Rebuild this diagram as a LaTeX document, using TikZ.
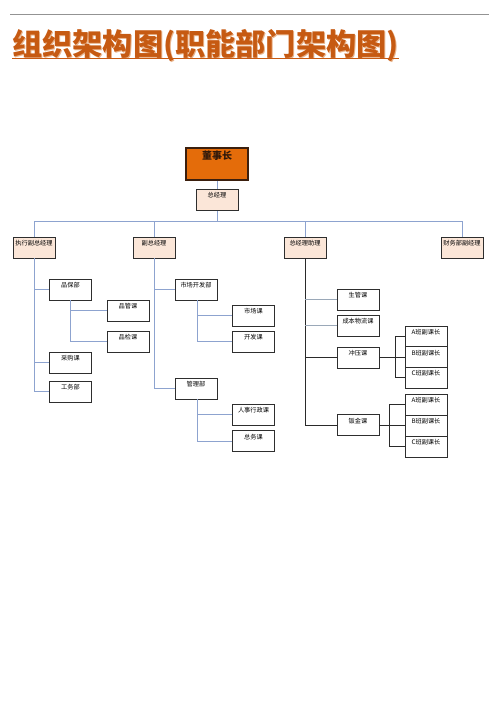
\documentclass[tikz,border=0pt]{standalone}
\usepackage{fontspec}
\newfontfamily\cjk{Noto Sans CJK SC}
\definecolor{titleor}{HTML}{C65A12}
\definecolor{titlesh}{HTML}{E9B48C}
\definecolor{topfill}{HTML}{E46C0A}
\definecolor{topline}{HTML}{3B1F0E}
\definecolor{peach}{HTML}{FBE6D8}
\definecolor{boxline}{HTML}{2E2E2E}
\definecolor{busblue}{HTML}{8DA3CF}
\definecolor{lgray}{HTML}{9AA8B8}
\definecolor{dkline}{HTML}{2A2A2A}
\tikzset{
  box/.style={draw=boxline, line width=0.8pt, fill=white, minimum width=42pt, minimum height=21pt,
    inner sep=0pt, font=\cjk\fontsize{6.2}{6.2}\selectfont, text height=4pt, text depth=8pt},
  pbox/.style={box, fill=peach},
  sbox/.style={box, minimum height=20.7pt},
  topbox/.style={draw=topline, line width=1.6pt, fill=topfill, minimum width=62pt, minimum height=32pt,
    inner sep=0pt, font=\cjk\bfseries\fontsize{10}{10}\selectfont, text=topline!80!black, text height=5pt, text depth=14pt},
  conn/.style={draw=busblue, line width=0.7pt},
  gconn/.style={draw=lgray, line width=0.8pt},
  dconn/.style={draw=dkline, line width=0.9pt},
}
\begin{document}
\begin{tikzpicture}[x=1pt,y=-1pt]
\useasboundingbox (0,0) rectangle (500,708);
% header rule and title
\draw[draw=gray!85, line width=0.9pt] (10,14) -- (489,14);
\node[anchor=base west, inner sep=0pt, font=\cjk\bfseries\fontsize{30.2}{30.2}\selectfont, text=titlesh] at (13,56.8) {组织架构图(职能部门架构图)};
\node[anchor=base west, inner sep=0pt, font=\cjk\bfseries\fontsize{30.2}{30.2}\selectfont, text=titleor] (title) at (12,56) {组织架构图(职能部门架构图)};
\draw[titleor, line width=1.6pt] ([yshift=-2.5pt]title.base west) -- ([yshift=-2.5pt]title.base east);

% top levels
\node[topbox] (dsz) at (217,164) {董事长};
\node[pbox] (zjl) at (217,200) {总经理};
\coordinate (busL) at (34,221);
\coordinate (busR) at (462,221);
\node[pbox] (zxf) at (34,247.5) {执行副总经理};
\node[pbox] (fzj) at (154,247.5) {副总经理};
\node[pbox] (zzl) at (305,247.5) {总经理助理};
\node[pbox] (cwb) at (462,247.5) {财务部副经理};

\draw[conn] (dsz.south) -- (zjl.north);
\draw[conn] (zjl.south) -- (zjl.south |- busL);
\draw[conn] (busL) -- (busR);
\draw[conn] (zxf.north) -- (zxf.north |- busL);
\draw[conn] (fzj.north) -- (fzj.north |- busL);
\draw[conn] (zzl.north) -- (zzl.north |- busL);
\draw[conn] (cwb.north) -- (cwb.north |- busL);

% column 1
\node[box] (pbb) at (70.5,289.5) {品保部};
\node[box] (pgk) at (128,310.5) {品管课};
\node[box] (pjk) at (128,341.5) {品检课};
\node[box] (cgk) at (70.5,362.5) {采购课};
\node[box] (gwb) at (70.5,391.5) {工务部};
\draw[conn] (zxf.south) |- (gwb.west);
\draw[conn] (zxf.south |- pbb.west) -- (pbb.west);
\draw[conn] (zxf.south |- cgk.west) -- (cgk.west);
\draw[conn] (pbb.south) |- (pjk.west);
\draw[conn] (pbb.south |- pgk.west) -- (pgk.west);

% column 2
\node[box] (scb) at (196,289.5) {市场开发部};
\node[box] (sck) at (253.5,315.5) {市场课};
\node[box] (kfk) at (253.5,341.5) {开发课};
\node[box] (glb) at (196,388.5) {管理部};
\node[box] (rsk) at (253.5,414.5) {人事行政课};
\node[box] (zwk) at (253.5,441) {总务课};
\coordinate (c2a) at (197,300);
\coordinate (c2b) at (197,399);
\draw[conn] (fzj.south) |- (glb.west);
\draw[conn] (fzj.south |- scb.west) -- (scb.west);
\draw[conn] (c2a) |- (kfk.west);
\draw[conn] (c2a |- sck.west) -- (sck.west);
\draw[conn] (c2b) |- (zwk.west);
\draw[conn] (c2b |- rsk.west) -- (rsk.west);

% column 3
\node[box] (sgk) at (358,299.5) {生管课};
\node[box] (cbk) at (358,325.5) {成本物流课};
\node[box] (cyk) at (358,357.5) {冲压课};
\node[box] (bjk) at (358,425) {钣金课};
\draw[dconn] (zzl.south) |- (bjk.west);
\draw[gconn] (zzl.south |- sgk.west) -- (sgk.west);
\draw[gconn] (zzl.south |- cbk.west) -- (cbk.west);
\draw[dconn] (zzl.south |- cyk.west) -- (cyk.west);

% stacks
\node[sbox] (a1) at (426,336.4) {A班副课长};
\node[sbox] (b1) at (426,357.1) {B班副课长};
\node[sbox] (c1) at (426,377.8) {C班副课长};
\node[box] (a2) at (426,404.5) {A班副课长};
\node[box] (b2) at (426,425.5) {B班副课长};
\node[box] (c2) at (426,446.5) {C班副课长};
\coordinate (br1) at (395,358);
\coordinate (br2) at (389,425);
\draw[dconn] (cyk.east) -- (cyk.east -| br1);
\draw[dconn] (a1.west) -| (c1.west -| br1) -- (c1.west);
\draw[dconn] (b1.west -| br1) -- (b1.west);
\draw[dconn] (bjk.east) -- (bjk.east -| br2);
\draw[dconn] (a2.west) -| (c2.west -| br2) -- (c2.west);
\draw[dconn] (b2.west -| br2) -- (b2.west);
\end{tikzpicture}
\end{document}
